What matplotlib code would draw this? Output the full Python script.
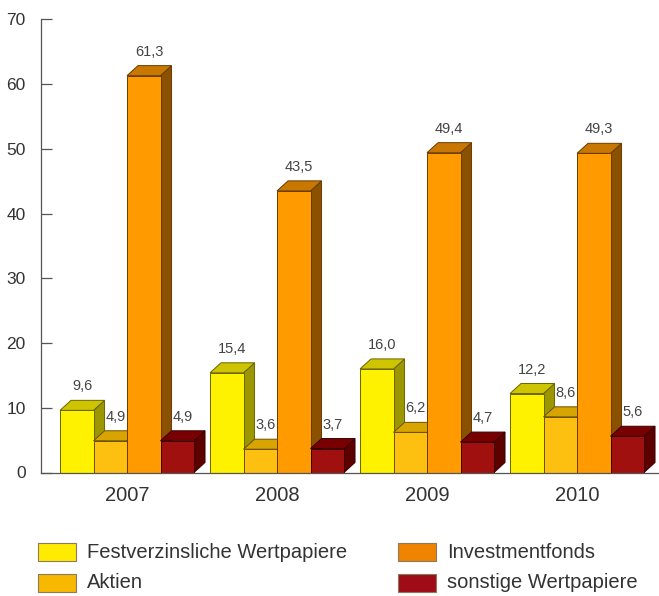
import matplotlib
matplotlib.use("Agg")
import matplotlib.pyplot as plt
from matplotlib.patches import Polygon, Rectangle

years = ["2007", "2008", "2009", "2010"]
series = ["Festverzinsliche Wertpapiere", "Aktien", "Investmentfonds", "sonstige Wertpapiere"]
festverzinslich = [9.6, 15.4, 16.0, 12.2]
aktien = [4.9, 3.6, 6.2, 8.6]
investmentfonds = [61.3, 43.5, 49.4, 49.3]
sonstige = [4.9, 3.7, 4.7, 5.6]
values = [festverzinslich, aktien, investmentfonds, sonstige]

front_colors = ["#FFF200", "#FDC010", "#FF9A00", "#A0100F"]
side_colors = ["#9C9600", "#A07A00", "#8A5200", "#5C0000"]
top_colors = ["#CFC400", "#D8A400", "#C87800", "#780000"]
edge_colors = ["#6B6500", "#6B5000", "#6B3A00", "#3A0000"]
legend_colors = ["#FFEB00", "#F8B800", "#F08300", "#A00B18"]

plt.rcParams['font.family'] = ['Liberation Sans', 'DejaVu Sans']

fig = plt.figure(figsize=(6.59, 5.96), dpi=100)
ax = fig.add_axes([41 / 659, 123.5 / 596, 618 / 659, 453.2 / 596])

bar_w = 0.2233
start = 0.127
dx = 0.0733
dy = 1.545

for g in range(len(years)):
    for s in range(len(series)):
        v = values[s][g]
        x0 = start + g + s * bar_w
        x1 = x0 + bar_w
        # side face
        ax.add_patch(Polygon([(x1, 0), (x1 + dx, dy), (x1 + dx, v + dy), (x1, v)],
                             closed=True, facecolor=side_colors[s],
                             edgecolor=edge_colors[s], linewidth=0.7, zorder=2 + g * 4 + s))
        # top face
        ax.add_patch(Polygon([(x0, v), (x0 + dx, v + dy), (x1 + dx, v + dy), (x1, v)],
                             closed=True, facecolor=top_colors[s],
                             edgecolor=edge_colors[s], linewidth=0.7, zorder=2 + g * 4 + s))
        # front face
        ax.bar(x0, v, width=bar_w, align='edge', color=front_colors[s],
               edgecolor=edge_colors[s], linewidth=0.7, zorder=2.5 + g * 4 + s)
        ax.annotate(f"{v:.1f}".replace(".", ","), (x0 + bar_w / 2 + dx / 2, v + dy),
                    xytext=(0, 5), textcoords='offset points', ha='center', va='bottom',
                    fontsize=10.5, color='#444444', zorder=50)

ax.set_xlim(0, 618 / 150)
ax.set_ylim(0, 70)
ax.set_yticks(range(0, 71, 10))
ax.set_xticks([start + g + 2 * bar_w for g in range(len(years))])
ax.set_xticklabels(years)
ax.tick_params(axis='y', direction='in', length=8, width=0.9, color='#555555',
               labelsize=12.5, labelcolor='#333333', pad=11)
ax.tick_params(axis='x', length=0, labelsize=14.5, labelcolor='#333333', pad=10)

ax.spines['top'].set_visible(False)
ax.spines['right'].set_visible(False)
ax.spines['left'].set_color('#555555')
ax.spines['bottom'].set_color('#555555')
ax.spines['left'].set_linewidth(0.9)
ax.spines['bottom'].set_linewidth(0.9)
ax.spines['bottom'].set_zorder(100)

# legend drawn by hand, two columns
for k, name in enumerate(series):
    col = k // 2
    row = k % 2
    bx = 38 + col * 360
    by = 596 - 561 - row * 31
    fig.add_artist(Rectangle((bx / 659, by / 596), 38 / 659, 18 / 596,
                             transform=fig.transFigure, facecolor=legend_colors[k],
                             edgecolor='#8a7a60', linewidth=0.8))
    fig.text((bx + 49) / 659, (by + 9) / 596, name, fontsize=14.5,
             color='#333333', va='center', ha='left')

plt.savefig("out.png", dpi=100)
